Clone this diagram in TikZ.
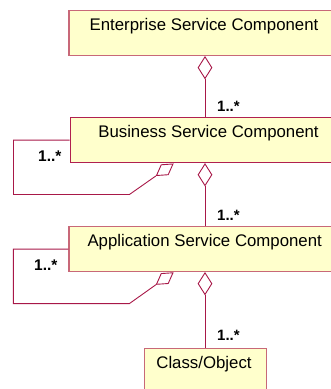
\documentclass[tikz,border=0pt]{standalone}
\usepackage{fontspec}
\setmainfont{Liberation Sans}
\usetikzlibrary{shapes.geometric}
\definecolor{boxfill}{HTML}{FFFFCC}
\definecolor{boxedge}{HTML}{C86878}
\definecolor{boxedgedark}{HTML}{B02050}
\definecolor{linkcol}{HTML}{A81848}
\tikzset{
  box/.style={draw=boxedge, line width=1.2pt, fill=boxfill, inner sep=0pt, anchor=north},
  boxtext/.style={font=\fontsize{16.8}{20}\selectfont, text=black, inner sep=0pt, anchor=base},
  mult/.style={font=\bfseries\fontsize{15}{18}\selectfont, text=black, inner sep=0pt, anchor=base west},
  selfmult/.style={font=\bfseries\fontsize{15.5}{18}\selectfont, text=black, inner sep=0pt, anchor=base west},
  link/.style={draw=linkcol, line width=0.9pt},
  agg/.style={diamond, draw=linkcol, line width=0.9pt, fill=white, inner sep=0pt,
              minimum width=14pt, minimum height=22pt, anchor=north},
  selfagg/.style={diamond, draw=linkcol, line width=0.9pt, fill=white, inner sep=0pt,
              minimum width=20.5pt, minimum height=12.5pt, rotate=35, anchor=east},
}
\begin{document}
\begin{tikzpicture}[x=1pt, y=-1pt]
\useasboundingbox (0,0) rectangle (331,389);
\clip (0,0) rectangle (331,389);

% component boxes
\node[box, minimum width=272pt, minimum height=45pt] (ent) at (205,10) {};
\node[box, draw=boxedgedark, line width=1pt, minimum width=270pt, minimum height=45.3pt] (bus) at (205,117) {};
\node[box, minimum width=272pt, minimum height=45pt] (app) at (205,226) {};
\node[box, line width=1pt, minimum width=122pt, minimum height=60pt] (cls) at (205,348) {};

\node[boxtext] (entT) at (204,30.7) {Enterprise Service Component};
\node[boxtext] (busT) at (208.5,137.7) {Business Service Component};
\node[boxtext] (appT) at (204.7,246.7) {Application Service Component};
\node[boxtext] (clsT) at (204,368.3) {Class/Object};

% aggregations down the hierarchy
\node[agg] (d1) at (ent.south) {};
\draw[link] (d1.south) -- (bus.north);
\node[agg] (d2) at (bus.south) {};
\draw[link] (d2.south) -- (app.north);
\node[agg] (d3) at (app.south) {};
\draw[link] (d3.south) -- (cls.north);

% self aggregations
\node[selfagg] (sb) at (173.5,163.6) {};
\draw[link] (bus.west) -- ++(-56,0) -- ++(0,54.3) -- ++(116,0) -- (sb.west);
\node[selfagg] (sa) at (173.5,272.4) {};
\draw[link] (app.west) -- ++(-55,0) -- ++(0,54.5) -- ++(116,0) -- (sa.west);

% multiplicities
\node[mult] (m1) at (217,111.7) {1..*};
\node[mult] (m2) at (217,220) {1..*};
\node[mult] (m3) at (217,340.7) {1..*};
\node[selfmult] (m4) at (38,161) {1..*};
\node[selfmult] (m5) at (34,270.7) {1..*};
\end{tikzpicture}
\end{document}
